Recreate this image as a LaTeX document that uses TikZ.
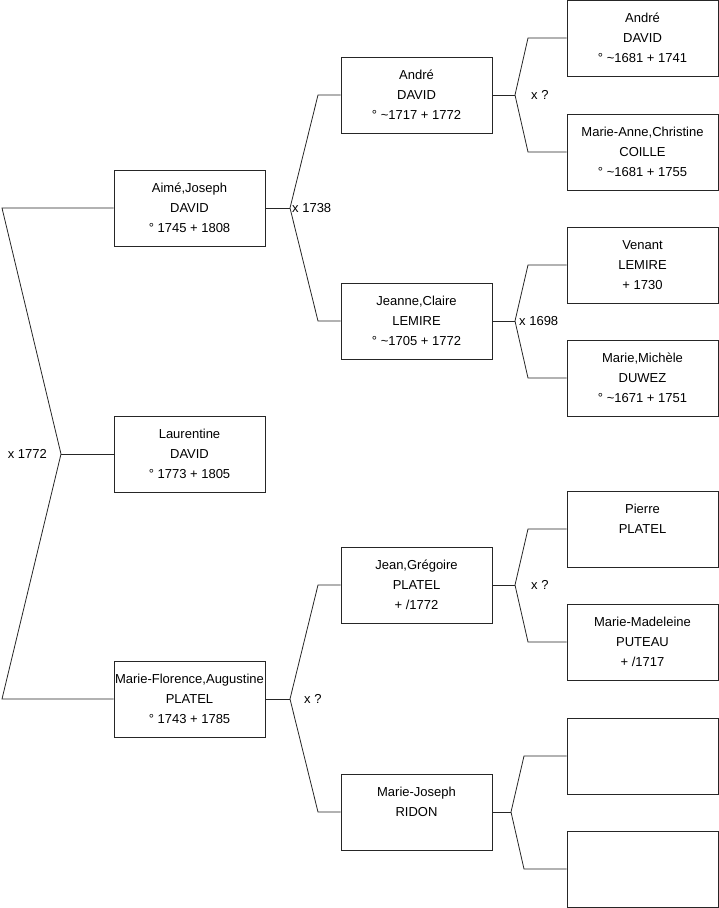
\documentclass[tikz,border=0pt]{standalone}
\usepackage{fontspec}
\setmainfont{Liberation Sans}
\usetikzlibrary{positioning}

\begin{document}
\begin{tikzpicture}[
  x=1pt, y=-1pt,
  font=\fontsize{13}{20}\selectfont,
  line/.style={draw=black!85, line width=0.8pt},
  pers/.style={draw=black!85, line width=0.8pt, minimum width=151pt,
               minimum height=76pt, inner sep=0pt, align=center},
  mar/.style={font=\fontsize{13}{14}\selectfont, inner sep=0pt},
]
\useasboundingbox (0,0) rectangle (719,908);

% --- Generation 0 ---
\node[pers] (aime) at (189.5,208) {Aimé,Joseph\\DAVID\\° 1745 + 1808};
\node[pers] (laur) at (189.5,454) {Laurentine\\DAVID\\° 1773 + 1805};
\node[pers] (mflo) at (189.5,699) {Marie-Florence,Augustine\\PLATEL\\° 1743 + 1785};

% --- Generation 1 ---
\node[pers] (andre)  at (416.5,95)  {André\\DAVID\\° \textasciitilde1717 + 1772};
\node[pers] (jeanne) at (416.5,321) {Jeanne,Claire\\LEMIRE\\° \textasciitilde1705 + 1772};
\node[pers] (jean)   at (416.5,585) {Jean,Grégoire\\PLATEL\\+ /1772};
\node[pers] (mjo)    at (416.5,812) {Marie-Joseph\\RIDON\\\mbox{}};

% --- Generation 2 ---
\node[pers] (andreb) at (642.5,38)  {André\\DAVID\\° \textasciitilde1681 + 1741};
\node[pers] (manne)  at (642.5,152) {Marie-Anne,Christine\\COILLE\\° \textasciitilde1681 + 1755};
\node[pers] (venant) at (642.5,265) {Venant\\LEMIRE\\+ 1730};
\node[pers] (mmich)  at (642.5,378) {Marie,Michèle\\DUWEZ\\° \textasciitilde1671 + 1751};
\node[pers] (pierre) at (642.5,529) {Pierre\\PLATEL\\\mbox{}};
\node[pers] (mmad)   at (642.5,642) {Marie-Madeleine\\PUTEAU\\+ /1717};
\node[pers] (emptya) at (642.5,756) {};
\node[pers] (emptyb) at (642.5,869) {};

% --- Forks ---
\coordinate (flaur) at (61,454);
\coordinate (flaura) at (2,208);
\coordinate (flaurb) at (2,699);
\draw[line] (aime.west) -- (flaura) -- (flaur) -- (flaurb) -- (mflo.west);
\draw[line] (flaur) -- (laur.west);
\node[mar, left=14pt of flaur] (mlaur) {x 1772};

\coordinate (faime) at (290,208);
\coordinate (faimea) at (318,95);
\coordinate (faimeb) at (318,321);
\draw[line] (andre.west) -- (faimea) -- (faime) -- (faimeb) -- (jeanne.west);
\draw[line] (aime.east) -- (faime);
\node[mar, right=2pt of faime] (maime) {x 1738};

\coordinate (fmflo) at (290,699);
\coordinate (fmfloa) at (318,585);
\coordinate (fmflob) at (318,812);
\draw[line] (jean.west) -- (fmfloa) -- (fmflo) -- (fmflob) -- (mjo.west);
\draw[line] (mflo.east) -- (fmflo);
\node[mar, right=14pt of fmflo] (mmflo) {x ?};

\coordinate (fandre) at (515,95);
\coordinate (fandrea) at (528,38);
\coordinate (fandreb) at (528,152);
\draw[line] (andreb.west) -- (fandrea) -- (fandre) -- (fandreb) -- (manne.west);
\draw[line] (andre.east) -- (fandre);
\node[mar, right=16pt of fandre] (mandre) {x ?};

\coordinate (fjeanne) at (515,321);
\coordinate (fjeannea) at (528,265);
\coordinate (fjeanneb) at (528,378);
\draw[line] (venant.west) -- (fjeannea) -- (fjeanne) -- (fjeanneb) -- (mmich.west);
\draw[line] (jeanne.east) -- (fjeanne);
\node[mar, right=4pt of fjeanne] (mjeanne) {x 1698};

\coordinate (fjean) at (515,585);
\coordinate (fjeana) at (528,529);
\coordinate (fjeanb) at (528,642);
\draw[line] (pierre.west) -- (fjeana) -- (fjean) -- (fjeanb) -- (mmad.west);
\draw[line] (jean.east) -- (fjean);
\node[mar, right=16pt of fjean] (mjean) {x ?};

\coordinate (fmjo) at (511,812);
\coordinate (fmjoa) at (524,756);
\coordinate (fmjob) at (524,869);
\draw[line] (emptya.west) -- (fmjoa) -- (fmjo) -- (fmjob) -- (emptyb.west);
\draw[line] (mjo.east) -- (fmjo);

\end{tikzpicture}
\end{document}
